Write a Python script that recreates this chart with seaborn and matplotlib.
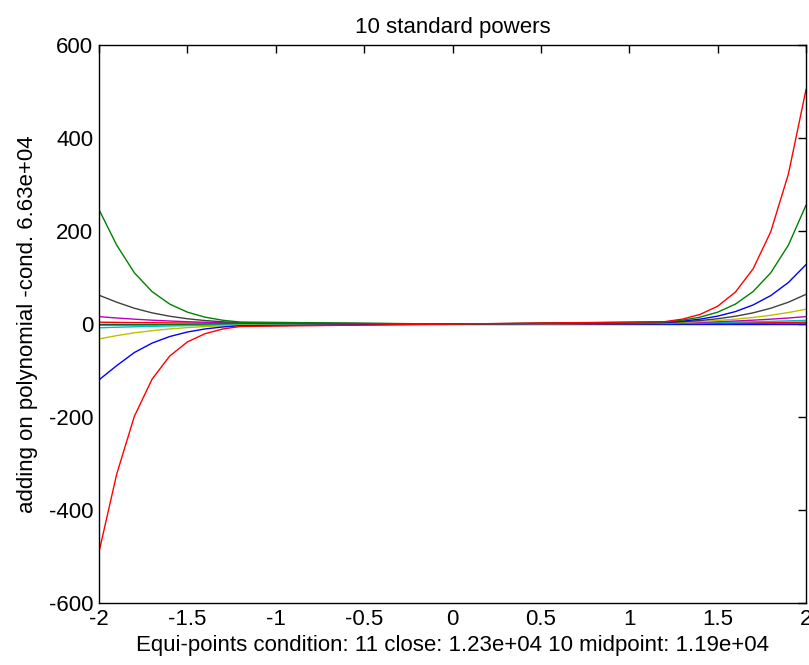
import pandas as pd
import matplotlib
matplotlib.use("Agg")
import matplotlib.pyplot as plt
import seaborn as sns

# sample points (left tail, centre, right tail)
x_vals = [-2.0, -1.9, -1.8, -1.7, -1.6, -1.5, -1.4, -1.3, -1.2, 0.0,
          1.2, 1.3, 1.4, 1.5, 1.6, 1.7, 1.8, 1.9, 2.0]

# one list per power
p0 = [1] * 19
p1 = [-2.0, -1.9, -1.8, -1.7, -1.6, -1.5, -1.4, -1.3, -1.2, 0.0,
      1.2, 1.3, 1.4, 1.5, 1.6, 1.7, 1.8, 1.9, 2.0]
p2 = [4.0, 3.61, 3.24, 2.89, 2.56, 2.25, 1.96, 1.69, 1.44, 0.0,
      1.44, 1.69, 1.96, 2.25, 2.56, 2.89, 3.24, 3.61, 4.0]
p3 = [-8.0, -6.86, -5.83, -4.91, -4.10, -3.38, -2.74, -2.20, -1.73, 0.0,
      1.73, 2.20, 2.74, 3.38, 4.10, 4.91, 5.83, 6.86, 8.0]
p4 = [16.0, 13.0, 10.5, 8.35, 6.55, 5.06, 3.84, 2.86, 2.07, 0.0,
      2.07, 2.86, 3.84, 5.06, 6.55, 8.35, 10.5, 13.0, 16.0]
p5 = [-32.0, -24.8, -18.9, -14.2, -10.5, -7.59, -5.38, -3.71, -2.49, 0.0,
      2.49, 3.71, 5.38, 7.59, 10.5, 14.2, 18.9, 24.8, 32.0]
p6 = [62.0, 47.0, 34.0, 24.1, 16.8, 11.4, 7.53, 4.83, 2.99, 0.0,
      2.99, 4.83, 7.53, 11.4, 16.8, 24.1, 34.0, 47.0, 64.0]
p7 = [-120.0, -89.4, -61.2, -41.0, -26.8, -17.1, -10.5, -6.27, -3.58, 0.0,
      3.58, 6.27, 10.5, 17.1, 26.8, 41.0, 61.2, 89.4, 128.0]
p8 = [246.0, 169.8, 110.2, 69.8, 42.9, 25.6, 14.8, 8.16, 4.30, 0.0,
      4.30, 8.16, 14.8, 25.6, 42.9, 69.8, 110.2, 169.8, 256.0]
p9 = [-490.0, -322.7, -198.4, -118.6, -68.7, -38.4, -20.7, -10.6, -5.16, 0.0,
      5.16, 10.6, 20.7, 38.4, 68.7, 118.6, 198.4, 322.7, 505.0]

powers = [p0, p1, p2, p3, p4, p5, p6, p7, p8, p9]
names = ["x^%d" % k for k in range(10)]

# matlab classic colour order
colors = [(0, 0, 1), (0, 0.5, 0), (1, 0, 0), (0, 0.75, 0.75), (0.75, 0, 0.75),
          (0.75, 0.75, 0), (0.25, 0.25, 0.25), (0, 0, 1), (0, 0.5, 0), (1, 0, 0)]

rows = []
for name, vals in zip(names, powers):
    for xv, yv in zip(x_vals, vals):
        rows.append({"x": xv, "y": yv, "power": name})
df = pd.DataFrame(rows)

sns.set_style("white")
plt.rcParams['font.family'] = ['Liberation Sans', 'DejaVu Sans']
plt.rcParams['axes.unicode_minus'] = False
plt.rcParams['text.color'] = 'black'
plt.rcParams['axes.labelcolor'] = 'black'

fig = plt.figure(figsize=(8.09, 6.65), dpi=100)
ax = fig.add_axes([0.1224, 0.0932, 0.874, 0.839])

sns.lineplot(data=df, x="x", y="y", hue="power", hue_order=names,
             palette=colors, sort=False, estimator=None, units="power",
             linewidth=1.0, legend=False, ax=ax)

ax.set_xlim(-2, 2)
ax.set_ylim(-600, 600)
ax.set_xticks([-2, -1.5, -1, -0.5, 0, 0.5, 1, 1.5, 2])
ax.set_xticklabels(["-2", "-1.5", "-1", "-0.5", "0", "0.5", "1", "1.5", "2"])
ax.set_yticks([-600, -400, -200, 0, 200, 400, 600])
ax.tick_params(direction="in", length=6, width=1, top=True, right=True,
               labelsize=16, colors="black", pad=4)
for s in ax.spines.values():
    s.set_color("black")
    s.set_linewidth(1.0)

ax.set_title("10 standard powers", fontsize=16, pad=9, color="black")
ax.set_xlabel("Equi-points condition: 11 close: 1.23e+04 10 midpoint: 1.19e+04",
              fontsize=16, labelpad=4)
ax.set_ylabel("adding on polynomial -cond. 6.63e+04", fontsize=16, labelpad=8)

fig.savefig("out.png", dpi=100)
